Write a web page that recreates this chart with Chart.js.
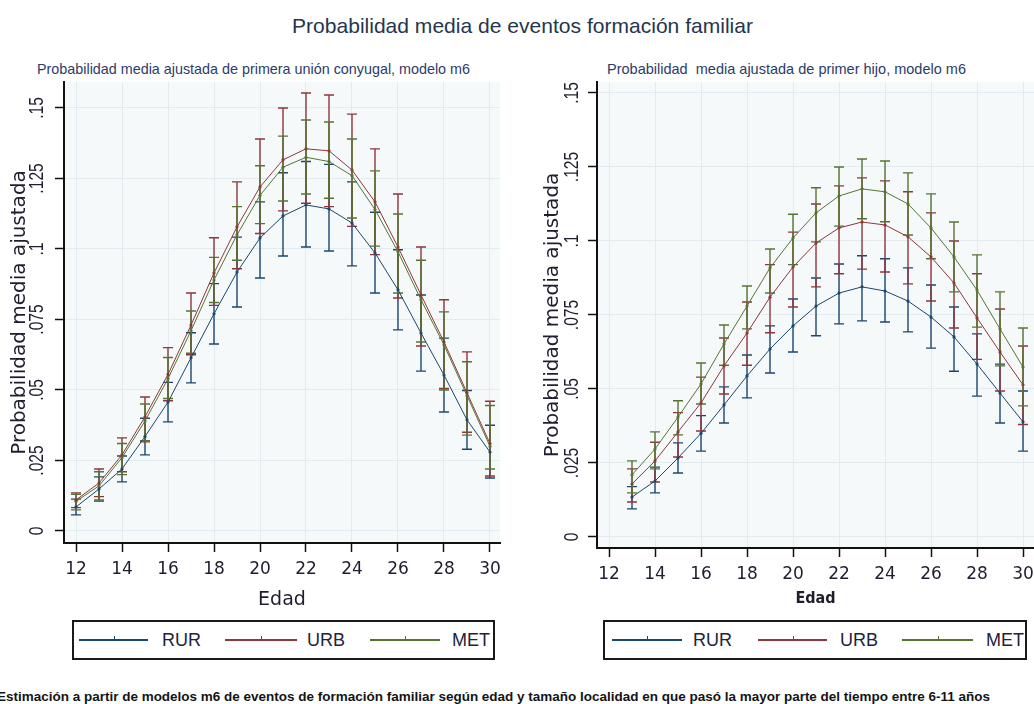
<!DOCTYPE html>
<html><head><meta charset="utf-8">
<script src="https://cdn.jsdelivr.net/npm/chart.js@4.4.1/dist/chart.umd.min.js"></script>
<style>
html,body{margin:0;padding:0;background:#fff;width:1034px;height:704px;overflow:hidden;position:relative}
.abs{position:absolute;white-space:nowrap;line-height:1;transform-origin:0 0}
#w1{position:absolute;left:0;top:0;width:520px;height:620px}
#w2{position:absolute;left:520px;top:0;width:514px;height:620px}
.box{position:absolute;top:620px;height:36px;border:2px solid #1a1a1a}
.sw{position:absolute;height:2px;top:639px}
.mk{position:absolute;width:1px;height:4px;top:636px}
.lt{position:absolute;top:631px;font:18px "Liberation Sans",Arial,sans-serif;color:#1c2440;line-height:18px;white-space:nowrap}
</style></head>
<body>
<div id="title" class="abs" style="left:292px;top:14px;font:21px 'Liberation Sans',Arial,sans-serif;color:#26354f">Probabilidad media de eventos formación familiar</div>
<div id="sub1" class="abs" style="left:37px;top:61px;font:14.5px 'Liberation Sans',Arial,sans-serif;color:#2c3c6a">Probabilidad media ajustada de primera unión conyugal, modelo m6</div>
<div id="sub2" class="abs" style="left:607px;top:61px;font:14.5px 'Liberation Sans',Arial,sans-serif;color:#2c3c6a">Probabilidad&nbsp; media ajustada de primer hijo, modelo m6</div>
<div id="w1"><canvas id="c1"></canvas></div>
<div id="w2"><canvas id="c2"></canvas></div>
<div class="box" style="left:72px;width:419px"></div>
<div class="box" style="left:603px;width:420px"></div>
<div id="legends"></div>
<div id="foot" class="abs" style="left:-3px;top:689px;font:bold 13px 'Liberation Sans Narrow','Liberation Sans',Arial,sans-serif;color:#141414">Estimación a partir de modelos m6 de eventos de formación familiar según edad y tamaño localidad en que pasó la mayor parte del tiempo entre 6-11 años</div>
<script>
// ---------- data ----------
const seriesNames = ['RUR', 'URB', 'MET'];
const xTicks = [12, 14, 16, 18, 20, 22, 24, 26, 28, 30];
const xTickLabels = ['12', '14', '16', '18', '20', '22', '24', '26', '28', '30'];
const yTicks = [0, 0.025, 0.05, 0.075, 0.1, 0.125, 0.15];
const yTickLabels = ['0', '.025', '.05', '.075', '.1', '.125', '.15'];

// Panel 1: primera unión conyugal, ages 12-30
const ages1 = [12,13,14,15,16,17,18,19,20,21,22,23,24,25,26,27,28,29,30];
const unionRUR   = [0.0085,0.0149,0.022,0.0335,0.0457,0.0614,0.077,0.0918,0.1039,0.1117,0.1156,0.1142,0.1092,0.0986,0.0855,0.0702,0.0553,0.0394,0.028];
const unionRURlo = [0.0057,0.0106,0.0174,0.027,0.0387,0.0525,0.0663,0.0794,0.0897,0.0975,0.1007,0.0993,0.094,0.0844,0.0713,0.0567,0.0422,0.029,0.0188];
const unionRURhi = [0.0113,0.0192,0.0266,0.04,0.0527,0.0703,0.0877,0.1042,0.1167,0.127,0.131,0.130,0.1238,0.113,0.0997,0.0837,0.0684,0.0498,0.0375];
const unionURB   = [0.011,0.017,0.027,0.0405,0.0555,0.073,0.0915,0.1078,0.122,0.1316,0.1355,0.1348,0.128,0.1167,0.1007,0.0837,0.067,0.049,0.031];
const unionURBlo = [0.0083,0.0122,0.021,0.0316,0.0462,0.0625,0.080,0.093,0.1055,0.1135,0.1162,0.115,0.108,0.098,0.0826,0.0656,0.0505,0.035,0.0195];
const unionURBhi = [0.0135,0.022,0.033,0.0475,0.065,0.0844,0.104,0.1238,0.139,0.150,0.1553,0.1546,0.1478,0.1355,0.1195,0.1007,0.082,0.0635,0.046];
const unionMET   = [0.0105,0.016,0.026,0.039,0.054,0.071,0.089,0.105,0.119,0.129,0.1325,0.131,0.126,0.114,0.099,0.082,0.066,0.048,0.030];
const unionMETlo = [0.0075,0.011,0.020,0.032,0.047,0.063,0.081,0.096,0.109,0.117,0.1195,0.118,0.111,0.101,0.0844,0.067,0.050,0.034,0.022];
const unionMEThi = [0.013,0.021,0.031,0.045,0.0615,0.078,0.097,0.115,0.1295,0.140,0.1457,0.145,0.139,0.1277,0.1124,0.096,0.0777,0.060,0.0445];

// Panel 2: primer hijo, ages 13-30
const ages2 = [13,14,15,16,17,18,19,20,21,22,23,24,25,26,27,28,29,30];
const hijoRUR   = [0.0135,0.0189,0.0267,0.035,0.0446,0.0544,0.0635,0.0713,0.078,0.0824,0.0845,0.0831,0.0797,0.0743,0.0676,0.0584,0.0486,0.0389];
const hijoRURlo = [0.0095,0.0149,0.0216,0.029,0.0385,0.047,0.0554,0.0625,0.068,0.072,0.073,0.0726,0.0693,0.0638,0.056,0.0476,0.0385,0.029];
const hijoRURhi = [0.017,0.0236,0.0318,0.041,0.0507,0.0615,0.0713,0.0804,0.0875,0.0922,0.095,0.094,0.0909,0.0851,0.0777,0.0686,0.0584,0.0493];
const hijoURB   = [0.0179,0.0257,0.0355,0.0453,0.0578,0.0689,0.081,0.0912,0.0993,0.1044,0.1064,0.1054,0.1014,0.0946,0.0858,0.074,0.0625,0.0514];
const hijoURBlo = [0.0118,0.0186,0.027,0.0358,0.0483,0.058,0.069,0.0777,0.0845,0.0889,0.0905,0.0895,0.0855,0.0797,0.0706,0.060,0.0493,0.038];
const hijoURBhi = [0.023,0.032,0.042,0.054,0.0672,0.0794,0.092,0.103,0.1125,0.1186,0.1213,0.1203,0.1166,0.1095,0.100,0.0889,0.077,0.0645];
const hijoMET   = [0.021,0.0297,0.0405,0.0517,0.0652,0.078,0.0909,0.101,0.1095,0.1152,0.1176,0.1166,0.1125,0.1044,0.0946,0.0834,0.0703,0.0574];
const hijoMETlo = [0.0149,0.023,0.0345,0.0449,0.058,0.0703,0.0824,0.092,0.0997,0.105,0.1075,0.1065,0.102,0.094,0.0828,0.0709,0.0578,0.0443];
const hijoMEThi = [0.0257,0.0355,0.046,0.0588,0.0716,0.0848,0.0973,0.109,0.118,0.125,0.1277,0.127,0.123,0.1159,0.1064,0.0953,0.0828,0.0706];

// ---------- styles ----------
const colors = ['#1a476f', '#90353b', '#55752f'];
const inkColor = '#1e1e30';

function makeChart(canvasId, ages, means, los, his, cfg) {
  const datasets = means.map((m, k) => ({
    label: seriesNames[k],
    data: ages.map((a, i) => ({ x: a, y: m[i] })),
    borderColor: colors[k],
    backgroundColor: colors[k],
    borderWidth: 1,
    pointRadius: 1.6,
    pointBorderWidth: 0,
    pointBackgroundColor: colors[k],
    tension: 0
  }));
  const bars = {
    id: 'bars',
    beforeDraw(chart) {
      const a = chart.chartArea, ctx = chart.ctx;
      ctx.save(); ctx.fillStyle = '#f6f9fa';
      ctx.fillRect(a.left, a.top, a.right - a.left, a.bottom - a.top); ctx.restore();
    },
    beforeDatasetsDraw(chart) {
      const ctx = chart.ctx, xs = chart.scales.x, ys = chart.scales.y;
      ctx.save(); ctx.lineWidth = 1.4;
      means.forEach((m, k) => {
        ctx.strokeStyle = colors[k];
        ctx.beginPath();
        ages.forEach((age, i) => {
          const x = xs.getPixelForValue(age);
          const y1 = ys.getPixelForValue(los[k][i]);
          const y2 = ys.getPixelForValue(his[k][i]);
          ctx.moveTo(x, y1); ctx.lineTo(x, y2);
          ctx.moveTo(x - 5, y1); ctx.lineTo(x + 5, y1);
          ctx.moveTo(x - 5, y2); ctx.lineTo(x + 5, y2);
        });
        ctx.stroke();
      });
      ctx.restore();
    },
    afterDraw(chart) {
      const ctx = chart.ctx, ys = chart.scales.y;
      ctx.save(); ctx.fillStyle = inkColor;
      ctx.font = '20px "Liberation Sans", Arial, sans-serif';
      ctx.textAlign = 'center'; ctx.textBaseline = 'alphabetic';
      ys.ticks.forEach((t) => {
        const idx = yTicks.indexOf(t.value);
        const y = ys.getPixelForValue(t.value);
        ctx.save(); ctx.translate(cfg.yLabelX, y); ctx.rotate(-Math.PI / 2); ctx.scale(0.78, 1);
        ctx.fillText(yTickLabels[idx], 0, 0); ctx.restore();
      });
      ctx.restore();
    }
  };
  return new Chart(document.getElementById(canvasId), {
    type: 'line',
    data: { datasets },
    plugins: [bars],
    options: {
      responsive: true, maintainAspectRatio: false, animation: false,
      devicePixelRatio: 1,
      layout: { autoPadding: false, padding: { top: 82, right: cfg.padRight, bottom: 0, left: 0 } },
      plugins: { legend: { display: false }, tooltip: { enabled: false }, title: { display: false } },
      scales: {
        x: {
          type: 'linear', min: cfg.xmin, max: cfg.xmax,
          afterBuildTicks(s) { s.ticks = xTicks.map(v => ({ value: v })); },
          afterFit(s) { s.height = cfg.xHeight; s.paddingLeft = 0; s.paddingRight = 0; },
          ticks: { autoSkip: false, maxRotation: 0, padding: 7, color: inkColor,
                   font: { family: 'DejaVu Sans', size: 17 },
                   callback: (v) => xTickLabels[xTicks.indexOf(v)] },
          grid: { color: '#e2ebf0', lineWidth: 1, drawTicks: true, tickLength: 9, tickColor: '#111', tickWidth: 1.5 },
          border: { display: true, color: '#111', width: 2 },
          title: { display: true, text: 'Edad', color: inkColor, font: cfg.xTitleFont, padding: { top: 0, bottom: cfg.xTitlePad } }
        },
        y: {
          type: 'linear', min: cfg.ymin, max: cfg.ymax,
          afterBuildTicks(s) { s.ticks = yTicks.map(v => ({ value: v })); },
          afterFit(s) { s.width = cfg.yWidth; s.paddingTop = 0; s.paddingBottom = 0; },
          ticks: { display: false },
          grid: { color: '#e2ebf0', lineWidth: 1, drawTicks: true, tickLength: 9, tickColor: '#111', tickWidth: 1.5 },
          border: { display: true, color: '#111', width: 2 },
          title: { display: true, text: 'Probabilidad media ajustada', color: inkColor,
                   font: { family: 'DejaVu Sans', size: 20 }, padding: { top: cfg.yTitlePad, bottom: 0 } }
        }
      }
    }
  });
}

makeChart('c1', ages1, [unionRUR, unionURB, unionMET], [unionRURlo, unionURBlo, unionMETlo], [unionRURhi, unionURBhi, unionMEThi],
  { xmin: 11.478, xmax: 30.435, ymin: -0.00426, ymax: 0.1592, padRight: 20, xHeight: 77, yWidth: 64,
    yLabelX: 43, yTitlePad: 8, xTitlePad: 9, xTitleFont: { family: 'DejaVu Sans', size: 19 } });
makeChart('c2', ages2, [hijoRUR, hijoURB, hijoMET], [hijoRURlo, hijoURBlo, hijoMETlo], [hijoRURhi, hijoURBhi, hijoMEThi],
  { xmin: 11.478, xmax: 30.478, ymin: -0.00372, ymax: 0.1537, padRight: 0, xHeight: 72, yWidth: 77,
    yLabelX: 58, yTitlePad: 21, xTitlePad: 12, xTitleFont: { family: "'Liberation Sans Narrow','DejaVu Sans Condensed',sans-serif", size: 16, weight: 'bold' } });

// ---------- legends (HTML) ----------
const legendLayout = [
  [[79, 148, 162], [225, 297, 307], [370, 440, 452]],
  [[612, 682, 693], [758, 827, 840], [902, 973, 986]]
];
const lg = document.getElementById('legends');
legendLayout.forEach(row => row.forEach(([x0, x1, tx], k) => {
  const sw = document.createElement('div'); sw.className = 'sw';
  sw.style.left = x0 + 'px'; sw.style.width = (x1 - x0) + 'px'; sw.style.background = colors[k]; lg.appendChild(sw);
  const mk = document.createElement('div'); mk.className = 'mk';
  mk.style.left = Math.round((x0 + x1) / 2) + 'px'; mk.style.background = colors[k]; lg.appendChild(mk);
  const t = document.createElement('div'); t.className = 'lt'; t.style.left = tx + 'px'; t.textContent = seriesNames[k]; lg.appendChild(t);
}));

function fit(id, w) {
  const el = document.getElementById(id);
  const cw = el.getBoundingClientRect().width;
  el.style.transform = 'scaleX(' + (w / cw) + ')';
}
fit('title', 461); fit('sub1', 433); fit('sub2', 359); fit('foot', 993);
</script>
</body></html>
